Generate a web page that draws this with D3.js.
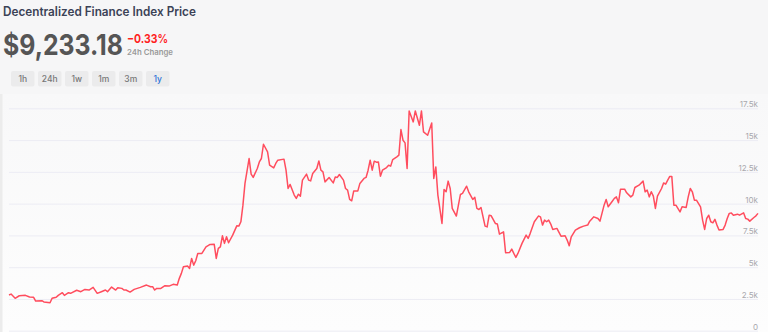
<!DOCTYPE html>
<html>
<head>
<meta charset="utf-8">
<script src="https://cdn.jsdelivr.net/npm/d3@7"></script>
<style>
  html, body { margin: 0; padding: 0; background: #f6f6f7; }
  svg { display: block; }
</style>
</head>
<body>
<div id="chart"></div>
<script>
// data: day offset and index price
var days = [0,1,3,5,8,10,12,13,16,17,20,21,23,24,26,27,29,30,33,35,37,39,41,43,45,47,48,50,52,53,55,56,57,59,61,64,67,69,70,71,72,74,76,78,80,82,83,84,85,87,88,89,90,91,92,94,96,98,100,101,102,103,104,105,106,107,109,111,112,113,114,115,117,118,119,121,122,123,124,126,127,129,130,131,134,135,136,137,139,140,141,142,143,145,146,147,148,150,151,152,153,154,156,158,159,160,161,163,164,165,166,167,168,170,171,173,174,175,176,177,178,179,180,181,182,184,185,186,187,189,190,191,192,193,194,195,197,198,200,201,202,204,206,207,208,209,211,212,213,214,215,216,218,219,220,221,223,224,226,227,228,229,230,232,233,234,235,237,238,239,241,242,244,245,246,247,248,250,252,253,254,256,258,259,260,261,262,263,264,265,267,269,271,272,273,274,276,278,280,282,283,285,287,288,290,291,292,294,295,296,297,298,300,301,303,304,305,307,309,310,311,312,313,314,315,316,318,319,320,321,322,323,324,325,327,328,330,331,332,333,334,335,337,338,339,340,341,342,343,344,345,346,348,349,350,351,352,353,355,356,358,359,360,361,363,364,365];
var prices = [2810,2880,2550,2750,2780,2650,2630,2330,2360,2260,2200,2550,2630,2780,2990,2780,2990,2940,3180,3070,3250,3200,3410,2940,3070,3200,3070,3430,3200,3380,3330,3200,3200,3040,3250,3410,3590,3460,3460,3200,3330,3330,3540,3510,3650,3590,4120,4510,5030,5090,4900,5690,5160,5500,6080,6080,6600,6790,6810,5690,6480,6600,7470,6870,7390,6920,7520,8250,8230,8570,9880,11590,13550,12320,12060,12760,13280,13550,14670,14070,13020,12810,13160,13420,13500,12630,11190,11510,10670,10410,10740,10590,11850,12320,11850,11790,12370,12760,13360,12630,12500,11710,12060,11630,12100,12060,12290,11850,11190,11060,10330,10220,11000,11000,11590,11980,12060,12630,13420,12630,13340,13260,13280,12160,12630,12840,13020,12950,13470,13680,13810,15830,14990,14780,12760,17290,16430,17290,16170,17290,15640,15380,16350,11980,12890,10670,8440,11110,10930,11770,11190,9620,9020,9880,10720,10800,11370,10930,10330,10490,9620,9540,9700,8230,8170,9090,9040,8440,8390,7600,7780,6130,6160,6420,6080,5770,6080,6870,7520,7260,7660,8570,9020,8960,8310,8700,8570,8700,8390,7970,8050,7440,7470,7130,6680,7390,7920,8100,8230,8310,8620,8960,8830,8620,9880,10330,9750,10190,10410,10530,10060,11140,11140,10850,10530,10670,11270,11450,11770,10930,11060,10530,10930,10590,9620,10590,11190,11630,11530,11850,12140,12140,9880,9880,9350,9750,9700,10530,11190,10930,10270,10270,9750,8700,7970,8830,9090,8570,8490,8760,8310,7920,7970,8310,8830,9230,9270,9090,9170,9090,9270,8830,8780,8620,8910,9040,9233.18];
var yTicks = [0,2500,5000,7500,10000,12500,15000,17500];
var ranges = ["1h","24h","1w","1m","3m","1y"];
var activeRange = "1y";
var title = "Decentralized Finance Index Price";
var lastPrice = 9233.18;
var change24h = -0.33;

var data = days.map(function(d, i) { return {day: d, price: prices[i]}; });

var W = 768, H = 332;
var plot = {left: 9, right: 758, top: 108, bottom: 331};
var fontStack = "Inter, 'Open Sans', 'DejaVu Sans', sans-serif";

var svg = d3.select("#chart")
  .append("svg")
    .attr("width", W)
    .attr("height", H);

// squeeze a text horizontally to a target width (Montserrat in the original is wider set)
function fitWidth(sel, x0, y0, target) {
  var w = sel.node().getComputedTextLength();
  sel.attr("x", 0).attr("y", 0)
    .attr("transform", "translate(" + x0 + "," + y0 + ") scale(" + (target / w) + ",1)");
}

// header
var titleText = svg.append("text")
  .attr("font-family", fontStack)
  .attr("font-size", 12.5).attr("font-weight", 600)
  .attr("fill", "#3b4256")
  .text(title);
fitWidth(titleText, 3, 16, 193);

var priceText = svg.append("text")
  .attr("font-family", fontStack)
  .attr("font-size", 29).attr("font-weight", 700)
  .attr("fill", "#555555")
  .text("$" + d3.format(",.2f")(lastPrice));
fitWidth(priceText, 3, 55, 120);

var changeText = svg.append("text")
  .attr("font-family", fontStack)
  .attr("font-size", 12).attr("font-weight", 700)
  .attr("fill", "#ff1f1f")
  .text(d3.format(".2f")(change24h) + "%");
fitWidth(changeText, 127, 42.5, 41);

var changeLabel = svg.append("text")
  .attr("font-family", fontStack)
  .attr("font-size", 8).attr("font-weight", 600)
  .attr("fill", "#9a9a9a")
  .text("24h Change");
fitWidth(changeLabel, 127, 55, 46);

// range buttons
var btn = svg.append("g").selectAll("g")
  .data(ranges)
  .enter().append("g")
    .attr("transform", function(d, i) { return "translate(" + (11 + i * 27) + ",71)"; });
btn.append("rect")
  .attr("width", 23.5).attr("height", 15.5)
  .attr("rx", 2)
  .attr("fill", "#ebebec");
btn.append("text")
  .attr("x", 11.75).attr("y", 11)
  .attr("text-anchor", "middle")
  .attr("font-family", fontStack)
  .attr("font-size", 8.5).attr("font-weight", 500)
  .attr("fill", function(d) { return d === activeRange ? "#2f74d8" : "#777"; })
  .text(function(d) { return d; });

// chart panel
var grad = svg.append("defs").append("linearGradient")
  .attr("id", "panel").attr("x1", 0).attr("y1", 0).attr("x2", 0).attr("y2", 1);
grad.append("stop").attr("offset", "0%").attr("stop-color", "#f8f8f9");
grad.append("stop").attr("offset", "100%").attr("stop-color", "#fdfdfd");
svg.append("rect")
  .attr("x", 0).attr("y", 94).attr("width", W).attr("height", H - 94)
  .attr("fill", "url(#panel)");
svg.append("rect")
  .attr("x", 0).attr("y", 94).attr("width", 2.5).attr("height", H - 94)
  .attr("fill", "#ececec");

var x = d3.scaleLinear()
  .domain([0, 365])
  .range([plot.left, plot.right]);

var y = d3.scaleLinear()
  .domain([0, 17500])
  .range([330.7, 108.3]);

// grid lines with labels on the right
var yAxis = svg.append("g")
  .attr("transform", "translate(" + plot.right + ",0)")
  .call(d3.axisLeft(y)
    .tickValues(yTicks)
    .tickSize(plot.right - plot.left)
    .tickFormat(function(d) { return d === 0 ? "0" : d3.format("~")(d / 1000) + "k"; }));
yAxis.select(".domain").remove();
yAxis.selectAll(".tick line")
  .attr("stroke", "#ececf4")
  .attr("stroke-width", 1);
yAxis.selectAll(".tick text")
  .attr("x", 0)
  .attr("dy", -1.5)
  .attr("text-anchor", "end")
  .attr("font-family", fontStack)
  .attr("font-size", 8)
  .attr("fill", "#a8a8ad");

svg.append("path")
  .datum(data)
  .attr("fill", "none")
  .attr("stroke", "#ff4d5e")
  .attr("stroke-width", 1.5)
  .attr("stroke-linejoin", "round")
  .attr("d", d3.line()
    .x(function(d) { return x(d.day); })
    .y(function(d) { return y(d.price); })
  );
</script>
</body>
</html>
